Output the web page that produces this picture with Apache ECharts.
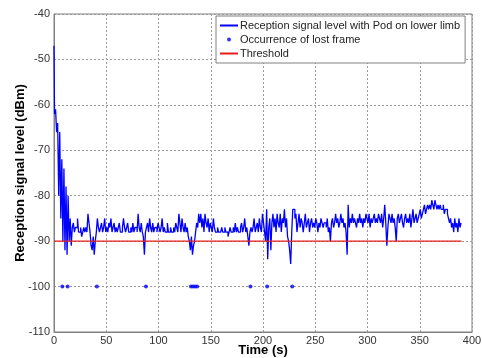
<!DOCTYPE html>
<html>
<head>
<meta charset="utf-8">
<script src="https://cdn.jsdelivr.net/npm/echarts@6/dist/echarts.min.js"></script>
<style>
  html, body {margin: 0; padding: 0; background: #fff;}
  #chart {width: 482px; height: 358px;}
</style>
</head>
<body>
<div id="chart"></div>
<script>
// reception level, one sample per second from t = 0 s
const signalStep = 1;
const signalLevels = [
  -47, -62, -61, -66, -64, -80, -66, -85, -72, -90,
  -74, -92, -78, -93, -80, -90, -85, -91, -87, -86,
  -88, -87, -87, -85, -88, -88, -87, -89, -88, -87,
  -88, -87, -88, -84, -86, -88, -91, -92, -89, -93,
  -90, -88, -85, -87, -88, -87, -86, -88, -87, -85,
  -88, -87, -88, -86, -87, -85, -88, -87, -86, -88,
  -87, -88, -87, -86, -88, -88, -87, -85, -87, -88,
  -87, -86, -88, -88, -87, -88, -86, -88, -87, -87,
  -88, -84, -87, -88, -86, -88, -89, -93, -88, -87,
  -86, -88, -85, -87, -88, -86, -88, -87, -87, -88,
  -86, -87, -88, -87, -85, -88, -87, -88, -88, -86,
  -88, -88, -87, -88, -88, -87, -88, -86, -87, -88,
  -84, -86, -88, -85, -87, -88, -86, -88, -87, -89,
  -90, -92, -89, -93, -91, -90, -88, -86, -87, -84,
  -86, -84, -87, -85, -88, -84, -86, -87, -85, -88,
  -86, -87, -88, -85, -87, -88, -88, -87, -88, -88,
  -88, -87, -88, -88, -87, -88, -88, -89, -88, -87,
  -88, -88, -87, -88, -86, -88, -87, -88, -88, -87,
  -86, -88, -87, -85, -88, -87, -89, -91, -88, -87,
  -88, -87, -85, -88, -87, -86, -88, -85, -87, -88,
  -84, -86, -88, -90, -83, -94, -87, -85, -92, -86,
  -84, -87, -85, -88, -84, -86, -87, -84, -88, -85,
  -86, -83, -87, -85, -89, -90, -92, -95, -88, -83,
  -83, -85, -84, -88, -86, -84, -87, -85, -86, -88,
  -86, -84, -87, -86, -85, -88, -86, -85, -87, -86,
  -87, -85, -86, -88, -86, -87, -85, -86, -87, -86,
  -86, -87, -85, -88, -87, -90, -86, -85, -87, -86,
  -84, -86, -85, -87, -86, -84, -86, -85, -87, -86,
  -88, -93, -82, -87, -85, -86, -84, -86, -85, -86,
  -87, -85, -86, -84, -86, -85, -87, -85, -86, -84,
  -85, -86, -84, -87, -85, -86, -85, -84, -86, -85,
  -86, -84, -85, -86, -84, -87, -85, -82, -86, -91,
  -87, -84, -85, -86, -84, -86, -85, -87, -90, -85,
  -84, -86, -85, -84, -86, -87, -85, -84, -86, -85,
  -86, -84, -87, -85, -83, -86, -85, -84, -86, -85,
  -84, -83, -85, -84, -83, -82, -84, -83, -82, -83,
  -82, -83, -81, -82, -83, -81, -82, -83, -82, -83,
  -82, -83, -83, -82, -84, -83, -83, -84, -85, -86,
  -85, -87, -86, -88, -85, -87, -86, -88, -85, -87,
  -86
];

const lostFrameTimes = [8, 13, 41, 88, 131, 133, 135, 137, 188, 204, 228];
const lostFrameLevel = -100;

const thresholdTimes = [0, 390];
const thresholdLevel = -90;

const xTicks = {min: 0, max: 400, step: 50};
const yTicks = {min: -110, max: -40, step: 10};

const names = [
  'Reception signal level with Pod on lower limb',
  'Occurrence of lost frame',
  'Threshold'
];

const blue = '#0000ff';
const red = '#e81e1e';
const font = 'Arial, "Liberation Sans", sans-serif';
const gridLine = {show: true, lineStyle: {color: '#9a9a9a', type: [2, 2], width: 1}};
const axisLine = {show: true, lineStyle: {color: '#808080', width: 1}};

const chart = echarts.init(document.getElementById('chart'));
chart.setOption({
  animation: false,
  backgroundColor: '#fff',
  textStyle: {fontFamily: font},
  grid: {
    left: 54, right: 10, top: 14, bottom: 26,
    outerBoundsMode: 'none',
    show: true, borderColor: '#808080', borderWidth: 1
  },
  legend: {
    orient: 'vertical',
    left: 216, top: 16,
    backgroundColor: '#fff',
    borderColor: '#808080', borderWidth: 1, borderRadius: 0,
    padding: [3, 5, 3, 3],
    itemGap: 1,
    itemWidth: 18, itemHeight: 4,
    textStyle: {fontSize: 11, color: '#222', fontFamily: font, padding: [0, 0, 0, -3], lineHeight: 13},
    data: [
      {name: names[0], itemStyle: {opacity: 0}},
      {name: names[1], icon: 'circle'},
      {name: names[2], itemStyle: {opacity: 0}}
    ]
  },
  xAxis: {
    type: 'value',
    min: xTicks.min, max: xTicks.max, interval: xTicks.step,
    name: 'Time (s)',
    nameLocation: 'middle', nameGap: 12,
    nameMoveOverlap: false,
    nameTextStyle: {fontSize: 13, fontWeight: 'bold', color: '#000', fontFamily: font},
    axisLine: axisLine,
    axisTick: {show: false},
    axisLabel: {fontSize: 11, color: '#333', margin: 3, fontFamily: font},
    splitLine: gridLine
  },
  yAxis: {
    type: 'value',
    min: yTicks.min, max: yTicks.max, interval: yTicks.step,
    name: 'Reception signal level (dBm)',
    nameLocation: 'middle', nameGap: 27,
    nameMoveOverlap: false,
    nameTextStyle: {fontSize: 13, fontWeight: 'bold', color: '#000', fontFamily: font},
    axisLine: axisLine,
    axisTick: {show: false},
    axisLabel: {fontSize: 11, color: '#333', margin: 4, fontFamily: font},
    splitLine: gridLine
  },
  series: [
    {
      name: names[0],
      type: 'line',
      symbol: 'none',
      step: 'middle',
      lineStyle: {color: blue, width: 1.3},
      itemStyle: {color: blue},
      data: signalLevels.map((v, i) => [i * signalStep, v])
    },
    {
      name: names[1],
      type: 'scatter',
      symbol: 'circle',
      symbolSize: 4,
      itemStyle: {color: blue},
      data: lostFrameTimes.map(t => [t, lostFrameLevel])
    },
    {
      name: names[2],
      type: 'line',
      symbol: 'none',
      lineStyle: {color: red, width: 1.2},
      itemStyle: {color: red},
      data: thresholdTimes.map(t => [t, thresholdLevel])
    }
  ]
});
</script>
</body>
</html>
